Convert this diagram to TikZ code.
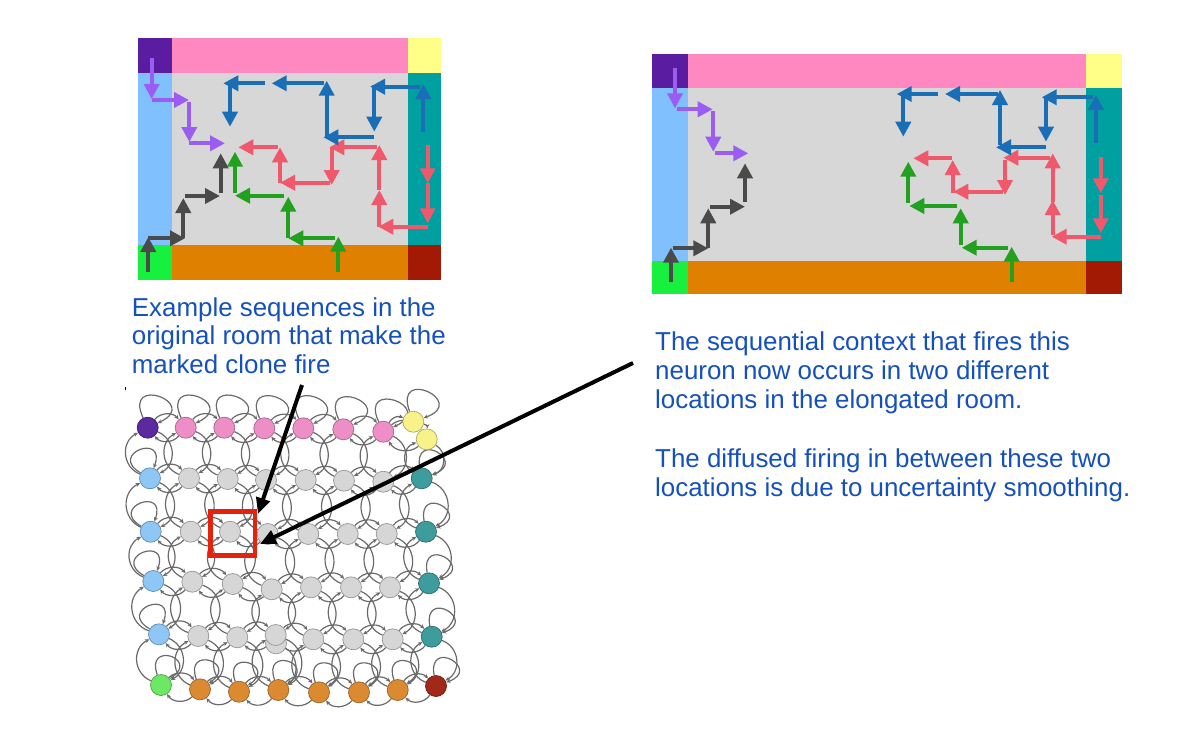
\documentclass[tikz,border=0pt]{standalone}
\usepackage{fontspec}
\setmainfont{Liberation Sans}
\usetikzlibrary{arrows.meta,backgrounds}
% room colours
\definecolor{rpurple}{HTML}{5A1CA0}
\definecolor{rpink}{HTML}{FF88C0}
\definecolor{ryellow}{HTML}{FFFF88}
\definecolor{rlblue}{HTML}{80C0FF}
\definecolor{rgray}{HTML}{D7D7D7}
\definecolor{rteal}{HTML}{00A0A0}
\definecolor{rgreen}{HTML}{18F040}
\definecolor{rorange}{HTML}{E08000}
\definecolor{rdred}{HTML}{A31A04}
% path arrow colours
\definecolor{apurple}{HTML}{9B5CF2}
\definecolor{adgray}{HTML}{4A4A4A}
\definecolor{agreen}{HTML}{22A020}
\definecolor{ared}{HTML}{F0586C}
\definecolor{ablue}{HTML}{1A6EB6}
% graph colours
\definecolor{gpurple}{HTML}{5B2A9E}
\definecolor{gpink}{HTML}{EE8EC6}
\definecolor{gyellow}{HTML}{F8F28A}
\definecolor{glb}{HTML}{8EC6F6}
\definecolor{ggray}{HTML}{D6D6D6}
\definecolor{gteal}{HTML}{3E9C9C}
\definecolor{ggreen}{HTML}{6CE866}
\definecolor{gorange}{HTML}{DC8A32}
\definecolor{gred}{HTML}{A2281A}
\definecolor{tblue}{HTML}{1450BE}
\definecolor{boxred}{HTML}{E4230E}
\definecolor{edgegray}{HTML}{6A6A6A}
\begin{document}
\begin{tikzpicture}[x=1pt,y=-1pt,
  arr/.style={line width=3.8pt,-{Triangle[length=15pt,width=15pt]}},
  ap/.style={arr,apurple}, ak/.style={arr,adgray}, ag/.style={arr,agreen},
  ar/.style={arr,ared}, ab/.style={arr,ablue},
  gn/.style={circle,draw=#1!70!black,fill=#1,line width=0.7pt,minimum size=21pt,inner sep=0pt},
  gedge/.style={draw=edgegray,line width=1.2pt,-{Stealth[length=4.5pt,width=4pt]}},
  bigarr/.style={line width=4pt,black,-{Triangle[length=16pt,width=14pt]}},
  txt/.style={anchor=base west,inner sep=0pt,text=tblue,font=\fontsize{25.9}{29}\selectfont}]
\useasboundingbox (0,0) rectangle (1199,731);

% ---------- left room ----------
\fill[rpurple] (138,38) rectangle (172,73);
\fill[rpink] (172,38) rectangle (408,73);
\fill[ryellow] (408,38) rectangle (441,73);
\fill[rlblue] (138,73) rectangle (172,245);
\fill[rgray] (172,73) rectangle (408,245);
\fill[rteal] (408,73) rectangle (441,245);
\fill[rgreen] (138,245) rectangle (172,280);
\fill[rorange] (172,245) rectangle (408,280);
\fill[rdred] (408,245) rectangle (441,280);

\draw[ap] (151.7,58.3)--(151.7,99);
\draw[ap] (151.7,100)--(189,100);
\draw[ap] (189.3,101.7)--(189.3,142);
\draw[ap] (189.3,143.3)--(225,143.3);

\draw[ak] (148.3,271.7)--(148.3,237);
\draw[ak] (148.3,238.3)--(185,238.3);
\draw[ak] (183.3,238.3)--(183.3,198);
\draw[ak] (185,196)--(220,196);
\draw[ak] (220.7,193.3)--(220.7,153.3);

\draw[ag] (338.3,271.7)--(338.3,236.7);
\draw[ag] (335,238.3)--(288.3,238.3);
\draw[ag] (288.3,238.3)--(288.3,196.7);
\draw[ag] (284,195.7)--(235,195.7);
\draw[ag] (235,193.3)--(235,151.7);

\draw[ar] (427.7,145)--(427.7,183.3);
\draw[ar] (427.7,183.3)--(427.7,223.3);
\draw[ar] (427.7,226.7)--(378.3,226.7);
\draw[ar] (379.3,226.7)--(379.3,190);
\draw[ar] (379.3,190)--(379.3,145);
\draw[ar] (376.7,147.3)--(329.3,147.3);
\draw[ar] (331.7,147.3)--(331.7,185);
\draw[ar] (330,182.7)--(280,182.7);
\draw[ar] (280,182.7)--(280,147.3);
\draw[ar] (278.3,147.3)--(238.3,147.3);

\draw[ab] (423.3,131.7)--(423.3,84);
\draw[ab] (420,86.7)--(370,86.7);
\draw[ab] (374.3,85)--(374.3,131.7);
\draw[ab] (374.3,137.3)--(323.3,137.3);
\draw[ab] (326.7,137.3)--(326.7,80.7);
\draw[ab] (324,83.3)--(271.7,83.3);
\draw[ab] (265,83.3)--(223.3,83.3);
\draw[ab] (230,83.3)--(230,126.7);

% ---------- right room ----------
\fill[rpurple] (652,54) rectangle (688,88);
\fill[rpink] (688,54) rectangle (1086,88);
\fill[ryellow] (1086,54) rectangle (1122,88);
\fill[rlblue] (652,88) rectangle (688,261);
\fill[rgray] (688,88) rectangle (1086,261);
\fill[rteal] (1086,88) rectangle (1122,261);
\fill[rgreen] (652,261) rectangle (688,294);
\fill[rorange] (688,261) rectangle (1086,294);
\fill[rdred] (1086,261) rectangle (1122,294);

\draw[ap] (675,67.7)--(675,108.3);
\draw[ap] (676.7,109.3)--(712.7,109.3);
\draw[ap] (713.3,111)--(713.3,151.7);
\draw[ap] (715,153.3)--(748.3,153.3);

\draw[ak] (671,281.7)--(671,247.7);
\draw[ak] (673.3,248.3)--(708.3,248.3);
\draw[ak] (708.3,248.3)--(708.3,208.3);
\draw[ak] (710,206.7)--(745,206.7);
\draw[ak] (745,201.7)--(745,163.3);

\draw[ag] (1011.7,281.7)--(1011.7,246.7);
\draw[ag] (1008.3,247.7)--(961.7,247.7);
\draw[ag] (960.7,245)--(960.7,208.3);
\draw[ag] (957.3,206)--(909.3,206);
\draw[ag] (908.3,203.3)--(908.3,161.7);

\draw[ar] (1100.7,156.7)--(1100.7,193.3);
\draw[ar] (1100.7,195)--(1100.7,233.3);
\draw[ar] (1100.7,236.7)--(1051.7,236.7);
\draw[ar] (1052.7,235)--(1052.7,200);
\draw[ar] (1052.7,201.7)--(1052.7,153.3);
\draw[ar] (1050,157.7)--(1003.3,157.7);
\draw[ar] (1005,160)--(1005,195);
\draw[ar] (1003.3,191.7)--(953.3,191.7);
\draw[ar] (952.7,193.3)--(952.7,160);
\draw[ar] (951.7,158.3)--(913.3,158.3);

\draw[ab] (1096,143.3)--(1096,95);
\draw[ab] (1093.3,97.3)--(1041.7,97.3);
\draw[ab] (1046,98.3)--(1046,141.7);
\draw[ab] (1046,147.3)--(996,147.3);
\draw[ab] (1000,145)--(1000,90);
\draw[ab] (998.3,94)--(945,94);
\draw[ab] (938.3,94)--(896.7,94);
\draw[ab] (903.3,95)--(903.3,136.7);

% ---------- texts ----------
\node[txt] (l1) at (131.7,316) {Example sequences in the};
\node[txt] (l2) at (131.7,344.5) {original room that make the};
\node[txt] (l3) at (131.7,373) {marked clone fire};
\node[txt] (r1) at (655,350) {The sequential context that fires this};
\node[txt] (r2) at (655,379) {neuron now occurs in two different};
\node[txt] (r3) at (655,408) {locations in the elongated room.};
\node[txt] (r4) at (655,467.5) {The diffused firing in between these two};
\node[txt] (r5) at (655,496.5) {locations is due to uncertainty smoothing.};

\fill[black] (124.6,386.6) rectangle (125.9,389.6);

% ---------- clone graph ----------
\node[gn=gpurple] (n00) at (147.7,427.7) {};
\node[gn=gpink] (n01) at (185.7,427.7) {};
\node[gn=gpink] (n02) at (224.3,427.7) {};
\node[gn=gpink] (n03) at (264.3,428.3) {};
\node[gn=gpink] (n04) at (303.3,428.3) {};
\node[gn=gpink] (n05) at (343.3,429.3) {};
\node[gn=gpink] (n06) at (383.3,431.7) {};
\node[gn=gyellow] (y1) at (413.3,421.7) {};
\node[gn=gyellow] (n07) at (426.7,439.3) {};

\node[gn=glb] (n10) at (150,478.3) {};
\node[gn=ggray] (n11) at (189,478.3) {};
\node[gn=ggray] (n12) at (227.7,479) {};
\node[gn=ggray] (n13) at (266,480) {};
\node[gn=ggray] (n14) at (305.7,480) {};
\node[gn=ggray] (n15) at (344,480.7) {};
\node[gn=ggray] (n16) at (383.3,481.7) {};
\node[gn=gteal] (n17) at (421.7,478.3) {};

\node[gn=glb] (n20) at (150.7,531.7) {};
\node[gn=ggray] (n21) at (190.7,531.7) {};
\node[gn=ggray] (n22) at (230,531.7) {};
\node[gn=ggray] (n23) at (267.7,534) {};
\node[gn=ggray] (n24) at (308.3,534) {};
\node[gn=ggray] (n25) at (347.7,534) {};
\node[gn=ggray] (n26) at (386.7,534) {};
\node[gn=gteal] (n27) at (426,531.7) {};

\node[gn=glb] (n30) at (153.3,581) {};
\node[gn=ggray] (n31) at (192.3,581.7) {};
\node[gn=ggray] (n32) at (232.7,584) {};
\node[gn=ggray] (n33) at (271.7,589.3) {};
\node[gn=ggray] (n34) at (311,587.3) {};
\node[gn=ggray] (n35) at (351,587.3) {};
\node[gn=ggray] (n36) at (390,587.3) {};
\node[gn=gteal] (n37) at (429,583.3) {};

\node[gn=glb] (n40) at (159,634.3) {};
\node[gn=ggray] (n41) at (198.3,636) {};
\node[gn=ggray] (n42) at (237.3,637.3) {};
\node[gn=ggray] (d43) at (276,643.3) {};
\node[gn=ggray] (n43) at (275.7,635) {};
\node[gn=ggray] (n44) at (313.3,639.3) {};
\node[gn=ggray] (n45) at (353.3,639.3) {};
\node[gn=ggray] (n46) at (392.7,639.3) {};
\node[gn=gteal] (n47) at (431.7,636.7) {};

\node[gn=ggreen] (n50) at (161,685) {};
\node[gn=gorange] (n51) at (200,689.3) {};
\node[gn=gorange] (n52) at (239,691.7) {};
\node[gn=gorange] (n53) at (278.3,690) {};
\node[gn=gorange] (n54) at (319,692.3) {};
\node[gn=gorange] (n55) at (359,692.3) {};
\node[gn=gorange] (n56) at (397.7,690) {};
\node[gn=gred] (n57) at (436,686) {};

\begin{pgfonlayer}{background}
  % horizontal neighbours
  \foreach \r in {0,...,5}{
    \foreach \c [count=\d] in {0,...,6}{
      \draw[gedge] (n\r\c) to[bend left=50] (n\r\d);
      \draw[gedge] (n\r\d) to[bend left=50] (n\r\c);
    }
  }
  % vertical neighbours
  \foreach \r [count=\s] in {0,...,4}{
    \foreach \c in {0,...,7}{
      \draw[gedge] (n\r\c) to[bend left=65,looseness=1.2] (n\s\c);
      \draw[gedge] (n\s\c) to[bend left=65,looseness=1.2] (n\r\c);
    }
  }
  % self loops
  \foreach \c in {0,...,6}{
    \draw[gedge] (n0\c) to[out=115,in=25,looseness=8] (n0\c);
    \draw[gedge] (n5\c) to[out=110,in=35,looseness=7] (n5\c);
  }
  \draw[gedge] (y1) to[out=110,in=20,looseness=8] (y1);
  \draw[gedge] (y1) to[bend left=40] (n07);
  \draw[gedge] (n06) to[bend left=40] (y1);
  \draw[gedge] (n57) to[out=100,in=20,looseness=7] (n57);
  \foreach \r in {1,...,4}{
    \draw[gedge] (n\r0) to[out=150,in=70,looseness=7] (n\r0);
    \draw[gedge] (n\r7) to[out=100,in=20,looseness=7] (n\r7);
  }
  \draw[gedge] (n43) to[bend left=40] (d43);
  \draw[gedge] (d43) to[bend left=60] (n53);
\end{pgfonlayer}

% marked clone and pointer arrows
\draw[boxred,line width=4.5pt] (210.5,511.5) rectangle (255,555.5);
\coordinate (a1s) at (302,385);
\coordinate (a1e) at (258,514);
\coordinate (a2s) at (633,363);
\coordinate (a2e) at (260,544);
\draw[bigarr] (a1s) -- (a1e);
\draw[bigarr] (a2s) -- (a2e);
\end{tikzpicture}
\end{document}
